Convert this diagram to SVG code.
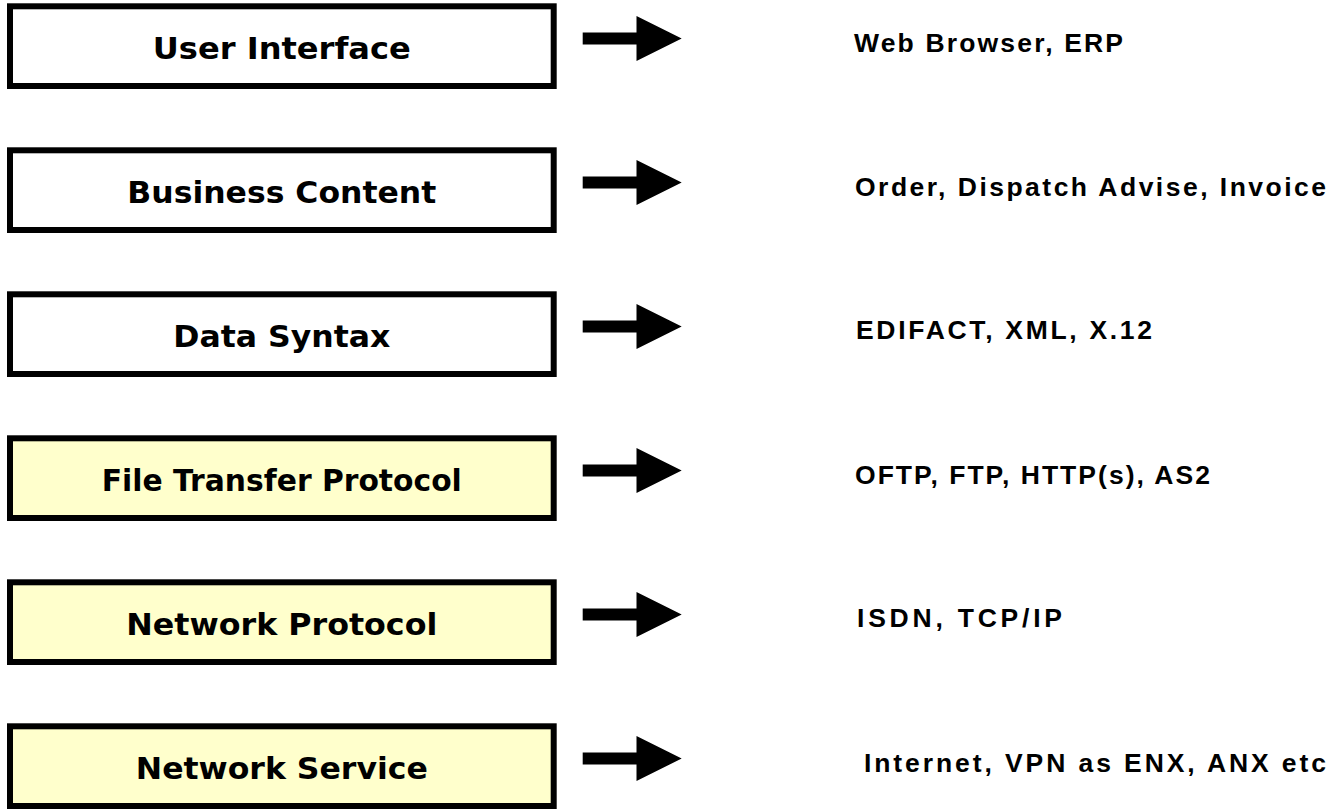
<svg xmlns="http://www.w3.org/2000/svg" xmlns:xlink="http://www.w3.org/1999/xlink" width="1334" height="811" viewBox="0 0 1334 811">
<style>
.box{stroke:#000;stroke-width:6;}
.w{fill:#FFFFFF;}
.y{fill:#FFFFCC;}
.bt{font-family:"DejaVu Sans",Verdana,sans-serif;font-weight:bold;font-size:31px;fill:#000;text-anchor:middle;}
.rt{font-family:"Liberation Sans",Arial,sans-serif;font-weight:bold;font-size:26.5px;fill:#000;}
</style>
<defs>
<polygon id="arr" points="582.7,32.5 636.5,32.5 636.5,16 681.7,38.5 636.5,61 636.5,44.5 582.7,44.5" fill="#000"/>
</defs>
<rect width="1334" height="811" fill="#FFFFFF"/>
<g id="node-user-interface">
<rect class="box w" x="10" y="6.3" width="543.7" height="79.7"/>
<text class="bt" x="281.8" y="59.3" textLength="258" lengthAdjust="spacingAndGlyphs">User Interface</text>
</g>
<g id="node-business-content">
<rect class="box w" x="10" y="150.3" width="543.7" height="79.7"/>
<text class="bt" x="281.8" y="203.3" textLength="309" lengthAdjust="spacingAndGlyphs">Business Content</text>
</g>
<g id="node-data-syntax">
<rect class="box w" x="10" y="294.3" width="543.7" height="79.7"/>
<text class="bt" x="281.8" y="347.3" textLength="217" lengthAdjust="spacingAndGlyphs">Data Syntax</text>
</g>
<g id="node-file-transfer-protocol">
<rect class="box y" x="10" y="438.3" width="543.7" height="79.7"/>
<text class="bt" x="281.8" y="491.3" textLength="360" lengthAdjust="spacingAndGlyphs">File Transfer Protocol</text>
</g>
<g id="node-network-protocol">
<rect class="box y" x="10" y="582.3" width="543.7" height="79.7"/>
<text class="bt" x="281.8" y="635.3" textLength="311" lengthAdjust="spacingAndGlyphs">Network Protocol</text>
</g>
<g id="node-network-service">
<rect class="box y" x="10" y="726.3" width="543.7" height="79.7"/>
<text class="bt" x="281.8" y="779.3" textLength="292" lengthAdjust="spacingAndGlyphs">Network Service</text>
</g>
<g id="connectors">
<use xlink:href="#arr" href="#arr" x="0" y="0"/>
<use xlink:href="#arr" href="#arr" x="0" y="144"/>
<use xlink:href="#arr" href="#arr" x="0" y="288"/>
<use xlink:href="#arr" href="#arr" x="0" y="432"/>
<use xlink:href="#arr" href="#arr" x="0" y="576"/>
<use xlink:href="#arr" href="#arr" x="0" y="720"/>
</g>
<g id="node-examples-ui">
<text class="rt" x="854" y="52" textLength="269" lengthAdjust="spacing">Web Browser, ERP</text>
</g>
<g id="node-examples-content">
<text class="rt" x="855" y="195.5" textLength="471" lengthAdjust="spacing">Order, Dispatch Advise, Invoice</text>
</g>
<g id="node-examples-syntax">
<text class="rt" x="856" y="339" textLength="296" lengthAdjust="spacing">EDIFACT, XML, X.12</text>
</g>
<g id="node-examples-ftp">
<text class="rt" x="855" y="483.5" textLength="355" lengthAdjust="spacing">OFTP, FTP, HTTP(s), AS2</text>
</g>
<g id="node-examples-network">
<text class="rt" x="857" y="627" textLength="205" lengthAdjust="spacing">ISDN, TCP/IP</text>
</g>
<g id="node-examples-service">
<text class="rt" x="864" y="772" textLength="462" lengthAdjust="spacing">Internet, VPN as ENX, ANX etc</text>
</g>
</svg>
